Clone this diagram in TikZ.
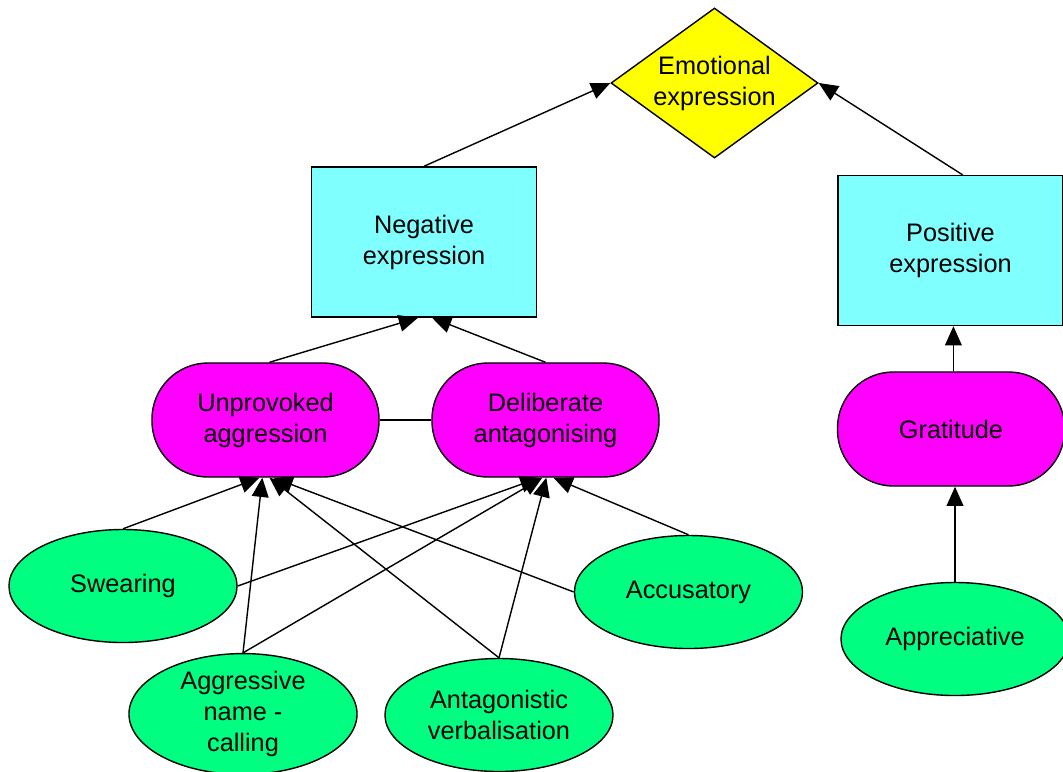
\documentclass[tikz,border=0pt]{standalone}
\usepackage{fontspec}
\setmainfont{Liberation Sans}
\usetikzlibrary{shapes.geometric,arrows.meta,positioning}

\definecolor{goalyellow}{HTML}{FFFF00}
\definecolor{boxcyan}{HTML}{80FFFF}
\definecolor{catmagenta}{HTML}{FF00FF}
\definecolor{leafgreen}{HTML}{00FF80}

\tikzset{
  >={Triangle[length=0.48cm,width=0.42cm]},
  txt/.style={font=\fontsize{18}{22}\selectfont, align=center, draw, line width=1pt},
  goal/.style={txt, diamond, fill=goalyellow, aspect=1.38, inner sep=0pt,
    minimum width=5.175cm, minimum height=3.75cm},
  box/.style={txt, rectangle, fill=boxcyan, minimum width=5.62cm, minimum height=3.75cm},
  cat/.style={txt, rectangle, rounded corners=1.4cm, fill=catmagenta,
    minimum width=5.675cm, minimum height=2.85cm},
  leaf/.style={txt, ellipse, fill=leafgreen, inner sep=0pt,
    minimum width=5.7cm, minimum height=2.825cm},
  link/.style={line width=1pt}
}

\begin{document}
\begin{tikzpicture}[x=0.025cm,y=-0.025cm]
\useasboundingbox (0,0) rectangle (1063,771);

\node (em) at (714.5,83) [goal] {Emotional\\expression};

\node (neg) at (424,242) [box] {Negative\\expression};
\node (pos) at (950.5,250.5) [box] {Positive\\expression};

\node (ua) at (265.5,420) [cat] {Unprovoked\\aggression};
\node (da) at (545.5,420) [cat] {Deliberate\\antagonising};
\node (grat) at (951,429) [cat] {Gratitude};

\node (swr) at (123,586) [leaf] {Swearing};
\node (anc) at (243,714) [leaf] {Aggressive\\name -\\calling};
\node (antv) at (499,715) [leaf] {Antagonistic\\verbalisation};
\node (acc) at (688.5,592) [leaf] {Accusatory};
\node (appr) at (955,639) [leaf] {Appreciative};

% upper levels
\draw[link,->] (neg.north) -- (em.west);
\draw[link,->] ([xshift=0.3cm]pos.north) -- (em.east);
\draw[link,->] ([xshift=0.1cm]ua.north) -- ([xshift=-0.15cm]neg.south);
\draw[link,->] (da.north) -- ([xshift=0.2cm]neg.south);
\draw[link] (ua.east) -- (da.east -| da.west);
\draw[link,->] ([xshift=0.06cm]grat.north) -- ([xshift=0.06cm]grat.north |- pos.south);
\draw[link,->] (appr.north) -- (appr.north |- grat.south);

% leaves to categories
\draw[link,->] (swr.north) -- ([xshift=-0.15cm]ua.south);
\draw[link,->] (swr.east) -- ([xshift=-0.15cm]da.south);
\draw[link,->] (anc.north) -- ([xshift=-0.08cm]ua.south);
\draw[link,->] (anc.north) -- ([xshift=-0.08cm]da.south);
\draw[link,->] (antv.north) -- ([xshift=0.1cm]ua.south);
\draw[link,->] (antv.north) -- ([xshift=0.02cm]da.south);
\draw[link,->] (acc.west) -- ([xshift=0.2cm]ua.south);
\draw[link,->] (acc.north) -- ([xshift=0.2cm]da.south);
\end{tikzpicture}
\end{document}
